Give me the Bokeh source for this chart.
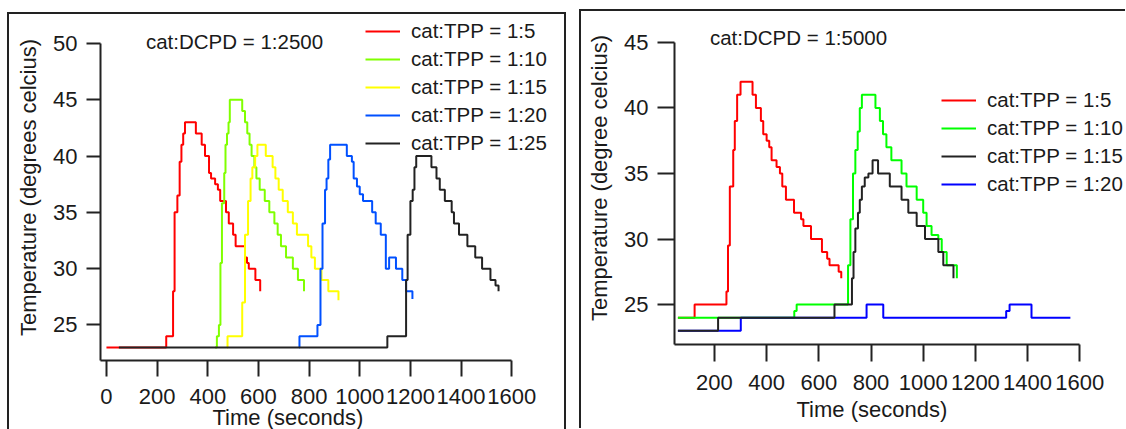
from bokeh.plotting import figure
from bokeh.models import Range1d, FixedTicker, Legend, LegendItem, Label, Title
from bokeh.layouts import row
from bokeh.embed import file_html
from bokeh.resources import INLINE

# ---------------- data : panel A  (cat:DCPD = 1:2500) ----------------
a_title = "cat:DCPD = 1:2500"
a_labels = ["cat:TPP = 1:5", "cat:TPP = 1:10", "cat:TPP = 1:15", "cat:TPP = 1:20", "cat:TPP = 1:25"]

a_time_5 = [0, 236, 263, 269, 280, 289, 296, 303, 310, 353, 376, 389, 405, 413, 429, 440, 449, 472, 483, 500, 510, 547, 555, 562, 588, 607]
a_temp_5 = [23, 24, 28, 35, 36.5, 39.5, 41, 42, 43, 42, 41, 40, 38.5, 38, 37.5, 37, 36, 35, 34, 33, 32, 31, 30.5, 30, 29, 28]

a_time_10 = [429, 436, 444, 450, 456, 465, 470, 476, 482, 487, 536, 547, 556, 565, 573, 584, 592, 605, 625, 643, 663, 676, 689, 709, 736, 756, 780]
a_temp_10 = [23, 24, 25, 30.5, 35.8, 38.5, 41, 42, 43, 45, 44, 43, 42, 41, 40, 39, 38, 37, 36, 35, 34, 33, 32, 31, 30, 29, 28]

a_time_15 = [476, 478, 536, 547, 559, 569, 576, 587, 596, 629, 656, 667, 680, 696, 716, 736, 752, 796, 809, 823, 849, 876, 916]
a_temp_15 = [23, 24, 27, 33, 36, 38, 39, 40, 41, 40, 39, 38, 37, 36, 35, 34, 33, 32, 31, 30, 29, 28, 27.2]

a_time_20 = [760, 762, 833, 845, 853, 863, 869, 876, 883, 949, 969, 976, 989, 1000, 1013, 1049, 1063, 1083, 1103, 1116, 1143, 1168, 1183, 1208]
a_temp_20 = [23, 24, 25, 30, 34, 37, 38, 39.7, 41, 40, 39.5, 38, 37.3, 36.6, 36, 35, 34, 33, 30, 31, 30, 29, 28, 27.3]

a_time_25 = [49, 1109, 1183, 1189, 1200, 1209, 1216, 1223, 1283, 1303, 1316, 1336, 1363, 1372, 1392, 1425, 1456, 1483, 1516, 1536, 1548]
a_temp_25 = [23, 24, 29, 33, 36, 37, 39, 40, 39, 38, 37, 36, 35, 34, 33, 32, 31, 30, 29, 28.5, 28]

a_colors = ["#FF0000", "#80FF00", "#FFFF00", "#0050FF", "#222222"]
a_y_ticks = [25, 30, 35, 40, 45, 50]

# ---------------- data : panel B  (cat:DCPD = 1:5000) ----------------
b_title = "cat:DCPD = 1:5000"
b_labels = ["cat:TPP = 1:5", "cat:TPP = 1:10", "cat:TPP = 1:15", "cat:TPP = 1:20"]

b_time_5 = [60, 124, 246, 252, 259, 272, 278, 287, 300, 346, 359, 378, 387, 400, 410, 419, 438, 451, 460, 474, 505, 532, 541, 570, 612, 632, 641, 676, 686]
b_temp_5 = [24, 25, 26, 29.5, 34, 36.8, 39, 41, 42, 41, 40, 39, 38, 37.5, 37, 36, 35.5, 35, 34, 33, 32, 31.5, 31, 30, 29, 28.5, 28, 27.5, 27]

b_time_10 = [60, 506, 515, 712, 721, 731, 740, 749, 757, 765, 817, 834, 846, 859, 878, 917, 936, 975, 1000, 1013, 1032, 1058, 1071, 1090, 1129]
b_temp_10 = [24, 24.5, 25, 28, 31.5, 35, 36.8, 38.2, 40, 41, 40, 39, 38, 37, 36, 35, 34, 33, 32, 31, 30.3, 30, 29, 28, 27]

b_time_15 = [60, 214, 660, 727, 733, 740, 750, 757, 765, 776, 790, 806, 827, 872, 917, 943, 975, 1007, 1058, 1077, 1116]
b_temp_15 = [23, 24, 25, 27, 29, 30.8, 32, 33, 34, 34.7, 35, 36, 35, 34, 33, 32, 31, 30, 29, 28, 27]

b_time_20 = [60, 301, 783, 847, 1318, 1331, 1415, 1564]
b_temp_20 = [23, 24, 25, 24, 24.5, 25, 24, 24]

b_colors = ["#FF0000", "#00FF00", "#222222", "#0000FF"]
b_y_ticks = [25, 30, 35, 40, 45]

x_ticks = [0, 200, 400, 600, 800, 1000, 1200, 1400, 1600]
x_label = "Time (seconds)"
a_y_label = "Temperature (degrees celcius)"
b_y_label = "Temperature (degree celcius)"

FONT = "Liberation Sans"
INK = "#1a1a1a"
AX = "#222222"


def panel(width, height, mb, xr, yr, xb, yb, yticks, ylabel, series, colors, labels,
          draw_order, title, title_xy, legend_loc, x_tick_out, y_tick_out, x_lab_standoff,
          xtitle_offset, xtitle_standoff, styles, margin):
    p = figure(width=width, height=height, output_backend="svg", toolbar_location=None,
               x_range=Range1d(*xr), y_range=Range1d(*yr),
               min_border_left=mb[0], min_border_right=mb[1], min_border_top=mb[2],
               min_border_bottom=mb[3], frame_align=False)
    p.outline_line_color = None
    p.grid.visible = False
    p.background_fill_color = "white"
    p.border_fill_color = "white"

    for ax, ticks, bounds, tout in ((p.xaxis[0], x_ticks, xb, x_tick_out),
                                    (p.yaxis[0], yticks, yb, y_tick_out)):
        ax.ticker = FixedTicker(ticks=ticks)
        ax.bounds = bounds
        ax.axis_line_width = 2
        ax.axis_line_color = AX
        ax.major_tick_line_width = 2
        ax.major_tick_line_color = AX
        ax.major_tick_out = tout
        ax.major_tick_in = 0
        ax.minor_tick_out = 0
        ax.minor_tick_in = 0
        ax.major_label_text_font = FONT
        ax.major_label_text_font_size = "22px"
        ax.major_label_text_color = INK
        ax.axis_label_text_font = FONT
        ax.axis_label_text_font_size = "22px"
        ax.axis_label_text_font_style = "normal"
        ax.axis_label_text_color = INK

    p.xaxis.major_label_standoff = x_lab_standoff
    p.yaxis.axis_label = ylabel
    p.yaxis.major_label_standoff = 9
    p.yaxis.axis_label_standoff = 9

    # x-axis title, placed under the tick labels (left aligned with an offset, as in the original)
    p.add_layout(Title(text=x_label, align="left", offset=xtitle_offset, standoff=xtitle_standoff,
                       text_font=FONT, text_font_size="22px", text_font_style="normal",
                       text_color=INK), "below")

    rends = [None] * len(series)
    for i in draw_order:
        t, T = series[i]
        rends[i] = p.step(t, T, mode="after", line_width=2, line_color=colors[i])

    items = [LegendItem(label=labels[i], renderers=[rends[i]]) for i in range(len(series))]
    leg = Legend(items=items, location=legend_loc, glyph_width=35, glyph_height=28,
                 label_height=28, spacing=0, padding=0, margin=0, label_standoff=11,
                 label_text_font=FONT, label_text_font_size="20.5px", label_text_color=INK,
                 border_line_color=None, background_fill_alpha=0)
    p.add_layout(leg)

    p.add_layout(Label(x=title_xy[0], y=title_xy[1], text=title, text_font=FONT,
                       text_font_size="20.5px", text_color=INK, text_baseline="alphabetic"))
    p.styles = styles
    p.margin = margin
    return p


border = "2px solid #222222"
pA = panel(555, 415, (91, 4, 0, 71), (-23.5, 1808.4), (21.848, 52.56), (-23.5, 1600), (21.848, 50),
           a_y_ticks, a_y_label,
           [(a_time_5, a_temp_5), (a_time_10, a_temp_10), (a_time_15, a_temp_15),
            (a_time_20, a_temp_20), (a_time_25, a_temp_25)],
           a_colors, a_labels, [0, 1, 2, 3, 4], a_title, (156, 50.13),
           (265, 202.7), 16, 14, 12, 112, -7,
           {"border-top": border, "border-left": border, "border-right": border,
            "box-sizing": "content-box"},
           (12, 0, 0, 7))

pB = panel(544, 417, (93, 0, 0, 86), (46.96, 1782.9), (21.953, 47.356), (46.96, 1600), (21.953, 45),
           b_y_ticks, b_y_label,
           [(b_time_5, b_temp_5), (b_time_10, b_temp_10), (b_time_15, b_temp_15),
            (b_time_20, b_temp_20)],
           b_colors, b_labels, [0, 1, 3, 2], b_title, (182.8, 45.4),
           (267, 145.7), 17, 17, 13, 122, 4,
           {"border-top": border, "border-left": border, "box-sizing": "content-box"},
           (9, 0, 0, 13))

layout = row(pA, pB)
open("out.html", "w").write(file_html(layout, INLINE))
